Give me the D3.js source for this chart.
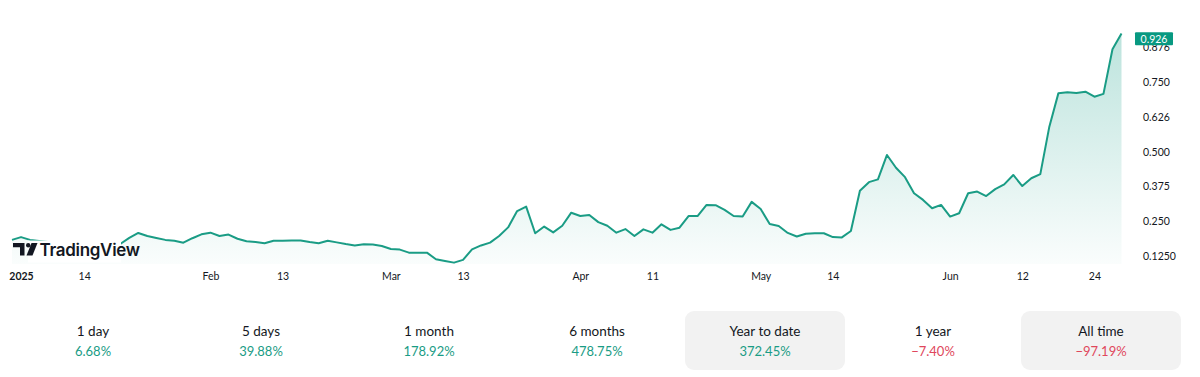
<!DOCTYPE html>
<html>
<head>
<meta charset="utf-8">
<script src="https://cdn.jsdelivr.net/npm/d3@7/dist/d3.min.js"></script>
<style>
  html, body { margin: 0; padding: 0; background: #ffffff; }
  svg { display: block; }
</style>
</head>
<body>
<svg id="chart" width="1200" height="377"></svg>
<script>
// ---- data ----
const values = [
  0.182, 0.192, 0.182, 0.178, 0.174, 0.171, 0.171, 0.167, 0.167, 0.164,
  0.164, 0.167, 0.167, 0.189, 0.207, 0.196, 0.189, 0.182, 0.179, 0.172,
  0.188, 0.202, 0.208, 0.196, 0.201, 0.186, 0.177, 0.174, 0.170, 0.179,
  0.179, 0.180, 0.180, 0.174, 0.170, 0.179, 0.173, 0.167, 0.162, 0.166,
  0.165, 0.160, 0.149, 0.147, 0.136, 0.136, 0.136, 0.112, 0.106, 0.100,
  0.110, 0.148, 0.162, 0.172, 0.196, 0.227, 0.286, 0.302, 0.206, 0.230,
  0.209, 0.233, 0.280, 0.268, 0.272, 0.246, 0.233, 0.208, 0.221, 0.196,
  0.220, 0.208, 0.238, 0.218, 0.226, 0.268, 0.268, 0.308, 0.307, 0.290,
  0.268, 0.266, 0.319, 0.293, 0.239, 0.232, 0.207, 0.194, 0.204, 0.206,
  0.206, 0.192, 0.191, 0.214, 0.359, 0.390, 0.400, 0.488, 0.442, 0.408,
  0.350, 0.326, 0.296, 0.308, 0.266, 0.278, 0.350, 0.356, 0.340, 0.365,
  0.382, 0.416, 0.376, 0.404, 0.419, 0.590, 0.710, 0.714, 0.711, 0.716,
  0.698, 0.708, 0.869, 0.926
];
const xTickIndex  = [1, 8, 22, 30, 42, 50, 63, 71, 83, 91, 104, 112, 120];
const xTickLabels = ["2025", "14", "Feb", "13", "Mar", "13", "Apr", "11", "May", "14", "Jun", "12", "24"];
const yTickValues = [0.125, 0.250, 0.375, 0.500, 0.626, 0.750, 0.876];
const yTickLabels = ["0.1250", "0.250", "0.375", "0.500", "0.626", "0.750", "0.876"];
const lastLabel = "0.926";
const periods = ["1 day", "5 days", "1 month", "6 months", "Year to date", "1 year", "All time"];
const changes = [6.68, 39.88, 178.92, 478.75, 372.45, -7.40, -97.19];
const highlighted = ["Year to date", "All time"];

// ---- layout ----
const svg = d3.select("#chart");
const plotLeft = 12, plotRight = 1121.5, plotBottom = 264;
const green = "#1a9c85", red = "#e0475c", ink = "#131722";

const x = d3.scaleLinear().domain([0, values.length - 1]).range([plotLeft, plotRight]);
const y = d3.scaleLinear().domain([0.125, 0.876]).range([255.7, 47.3]);

// gradient
const defs = svg.append("defs");
const grad = defs.append("linearGradient")
  .attr("id", "areaGrad").attr("gradientUnits", "userSpaceOnUse")
  .attr("x1", 0).attr("x2", 0).attr("y1", y(d3.max(values))).attr("y2", plotBottom);
grad.append("stop").attr("offset", "0%").attr("stop-color", "#089981").attr("stop-opacity", 0.27);
grad.append("stop").attr("offset", "100%").attr("stop-color", "#089981").attr("stop-opacity", 0.02);

const area = d3.area()
  .x((d, i) => x(i)).y0(plotBottom).y1(d => y(d));
const line = d3.line()
  .x((d, i) => x(i)).y(d => y(d));

svg.append("path").datum(values).attr("d", area).attr("fill", "url(#areaGrad)");
svg.append("path").datum(values).attr("d", line)
  .attr("fill", "none").attr("stroke", green).attr("stroke-width", 2)
  .attr("stroke-linejoin", "round");

// ---- logo ----
const logo = svg.append("g");
logo.append("rect").attr("x", 28).attr("y", 240.5).attr("width", 93).attr("height", 22).attr("fill", "#ffffff");
logo.append("path")
  .attr("d", "M13,243 H24.5 V255.5 H20 V247.3 H13 Z")
  .attr("fill", ink);
logo.append("circle").attr("cx", 28.2).attr("cy", 245.2).attr("r", 2.2).attr("fill", ink);
logo.append("path")
  .attr("d", "M31.5,243 H37.5 L32.5,255.5 H26.5 Z")
  .attr("fill", ink);
logo.append("text")
  .attr("x", 39.5).attr("y", 255.5)
  .attr("font-family", "Inter, 'Noto Sans', sans-serif")
  .attr("font-weight", 600).attr("font-size", 17)
  .attr("letter-spacing", -0.3)
  .attr("fill", ink).text("TradingView");

// ---- x axis ----
const xAxis = d3.axisBottom(x)
  .tickValues(xTickIndex)
  .tickFormat((d, i) => xTickLabels[i])
  .tickSize(0).tickPadding(0);
const gx = svg.append("g").attr("transform", "translate(0,273)").call(xAxis);
gx.select(".domain").remove();
gx.selectAll("text")
  .attr("font-family", "Lato, 'Liberation Sans', sans-serif")
  .attr("font-size", 10.5).attr("fill", ink).attr("dy", "0.71em")
  .attr("font-weight", (d, i) => i === 0 ? 700 : 400);

// ---- y axis ----
const yAxis = d3.axisRight(y)
  .tickValues(yTickValues)
  .tickFormat((d, i) => yTickLabels[i])
  .tickSize(0).tickPadding(0);
const gy = svg.append("g").attr("transform", "translate(1143,0)").call(yAxis);
gy.select(".domain").remove();
gy.selectAll("text")
  .attr("font-family", "Lato, 'Liberation Sans', sans-serif")
  .attr("font-size", 10.5).attr("fill", ink).attr("text-anchor", "start");

// last value label
const lastY = y(values[values.length - 1]) + 5.4;
svg.append("rect").attr("x", 1135).attr("y", lastY - 6.5).attr("width", 38).attr("height", 13)
  .attr("rx", 1).attr("fill", "#089981");
svg.append("text").attr("x", 1154).attr("y", lastY).attr("dy", "0.35em")
  .attr("text-anchor", "middle")
  .attr("font-family", "Lato, 'Liberation Sans', sans-serif").attr("font-size", 10.5)
  .attr("fill", "#ffffff").text(lastLabel);

// ---- performance row ----
const band = d3.scaleBand().domain(periods).range([9, 1185]);
const cols = svg.append("g").selectAll("g").data(periods).join("g")
  .attr("transform", d => `translate(${band(d) + band.bandwidth() / 2},0)`);
cols.filter(d => highlighted.includes(d)).append("rect")
  .attr("x", -80).attr("y", 311).attr("width", 160).attr("height", 59)
  .attr("rx", 9).attr("fill", "#f2f2f2");
cols.append("text").attr("y", 336).attr("text-anchor", "middle")
  .attr("font-family", "Lato, 'Liberation Sans', sans-serif").attr("font-size", 13.5)
  .attr("fill", ink).text(d => d);
cols.append("text").attr("y", 356).attr("text-anchor", "middle")
  .attr("font-family", "Lato, 'Liberation Sans', sans-serif").attr("font-size", 13)
  .attr("fill", (d, i) => changes[i] < 0 ? red : green)
  .text((d, i) => (changes[i] < 0 ? "\u2212" : "") + Math.abs(changes[i]).toFixed(2) + "%");
</script>
</body>
</html>
